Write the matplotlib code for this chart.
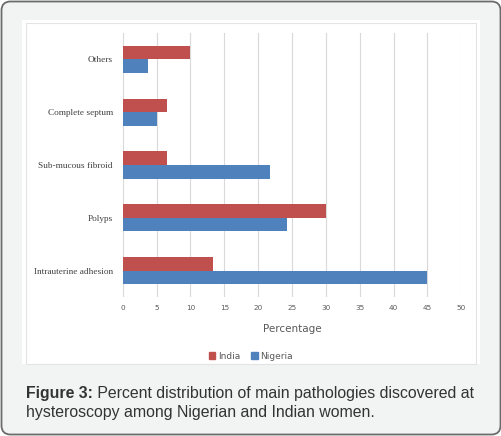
import matplotlib
matplotlib.use("Agg")
import matplotlib.pyplot as plt
from matplotlib.patches import FancyBboxPatch, Rectangle
from matplotlib.transforms import IdentityTransform

# data
categories = ["Intrauterine adhesion", "Polyps", "Sub-mucous fibroid",
              "Complete septum", "Others"]
india = [13.3, 30.0, 6.6, 6.6, 10.0]
nigeria = [44.9, 24.3, 21.7, 5.0, 3.7]
xticks = [0, 5, 10, 15, 20, 25, 30, 35, 40, 45, 50]

W, H = 502, 436
DPI = 100
red = "#C0504D"
blue = "#4F81BD"

fig = plt.figure(figsize=(W / DPI, H / DPI), dpi=DPI)
fig.patch.set_facecolor("white")

def px(x, y_top):
    # pixel coords measured from top-left -> display coords
    return x, H - y_top

# outer rounded grey panel
x0, y0 = px(1.5, 434.5)
outer = FancyBboxPatch((x0, y0), 499, 433, boxstyle="round,pad=0,rounding_size=9",
                       transform=IdentityTransform(), facecolor="#f2f4f3",
                       edgecolor="#6b6b6b", linewidth=1.3, zorder=0)
fig.patches.append(outer)

# white chart area
x0, y0 = px(22, 364)
fig.patches.append(Rectangle((x0, y0), 458, 344, transform=IdentityTransform(),
                             facecolor="white", edgecolor="none", zorder=1))
x0, y0 = px(25.5, 364)
fig.patches.append(Rectangle((x0, y0), 450, 341, transform=IdentityTransform(),
                             facecolor="none", edgecolor="#e3e3e3", linewidth=0.8, zorder=1))

ax = fig.add_axes([122.7 / W, 1 - 297 / H, 338.6 / W, 264 / H])
ax.set_facecolor("none")
ax.set_zorder(2)

ypos = list(range(len(categories)))
bh = 0.256
ax.barh([y + bh / 2 for y in ypos], india, height=bh, color=red, label="India", zorder=3)
ax.barh([y - bh / 2 for y in ypos], nigeria, height=bh, color=blue, label="Nigeria", zorder=3)

ax.set_xlim(0, 50)
ax.set_ylim(-0.5, len(categories) - 0.5)
ax.set_xticks(xticks)
ax.set_xticklabels([str(t) for t in xticks])
ax.set_yticks(ypos)
ax.set_yticklabels(categories, family="Liberation Serif", fontsize=6.7, color="#404040")
ax.tick_params(axis="x", length=0, pad=6, labelsize=5.2, labelcolor="#595959")
ax.tick_params(axis="y", length=0, pad=7)
for s in ax.spines.values():
    s.set_visible(False)
ax.grid(axis="x", color="#d9d9d9", linewidth=0.8, zorder=0)
ax.set_axisbelow(True)
ax.set_xlabel("Percentage", fontsize=7.5, color="#595959", labelpad=9)

handles = [Rectangle((0, 0), 1, 1, color=red), Rectangle((0, 0), 1, 1, color=blue)]
fig.legend(handles, ["India", "Nigeria"], loc="center", bbox_to_anchor=(251 / W, 1 - 356 / H),
           ncol=2, frameon=False, fontsize=6.5, labelcolor="#595959",
           handlelength=0.7, handleheight=0.7, handletextpad=0.3, columnspacing=1.2)

# caption
cap_color = "#333333"
cap_fs = 11.4
tx, ty1, ty2 = 26 / W, 1 - 398 / H, 1 - 417 / H
t1 = fig.text(tx, ty1, "Figure 3:", family="Liberation Sans", fontweight="bold",
              fontsize=cap_fs, color=cap_color, va="baseline")
r = fig.canvas.get_renderer()
bb = t1.get_window_extent(renderer=r)
fig.text(bb.x1 / W, ty1, " Percent distribution of main pathologies discovered at",
         family="Liberation Sans", fontsize=cap_fs, color=cap_color, va="baseline")
fig.text(tx, ty2, "hysteroscopy among Nigerian and Indian women.",
         family="Liberation Sans", fontsize=cap_fs, color=cap_color, va="baseline")

fig.savefig("out.png", dpi=DPI)
